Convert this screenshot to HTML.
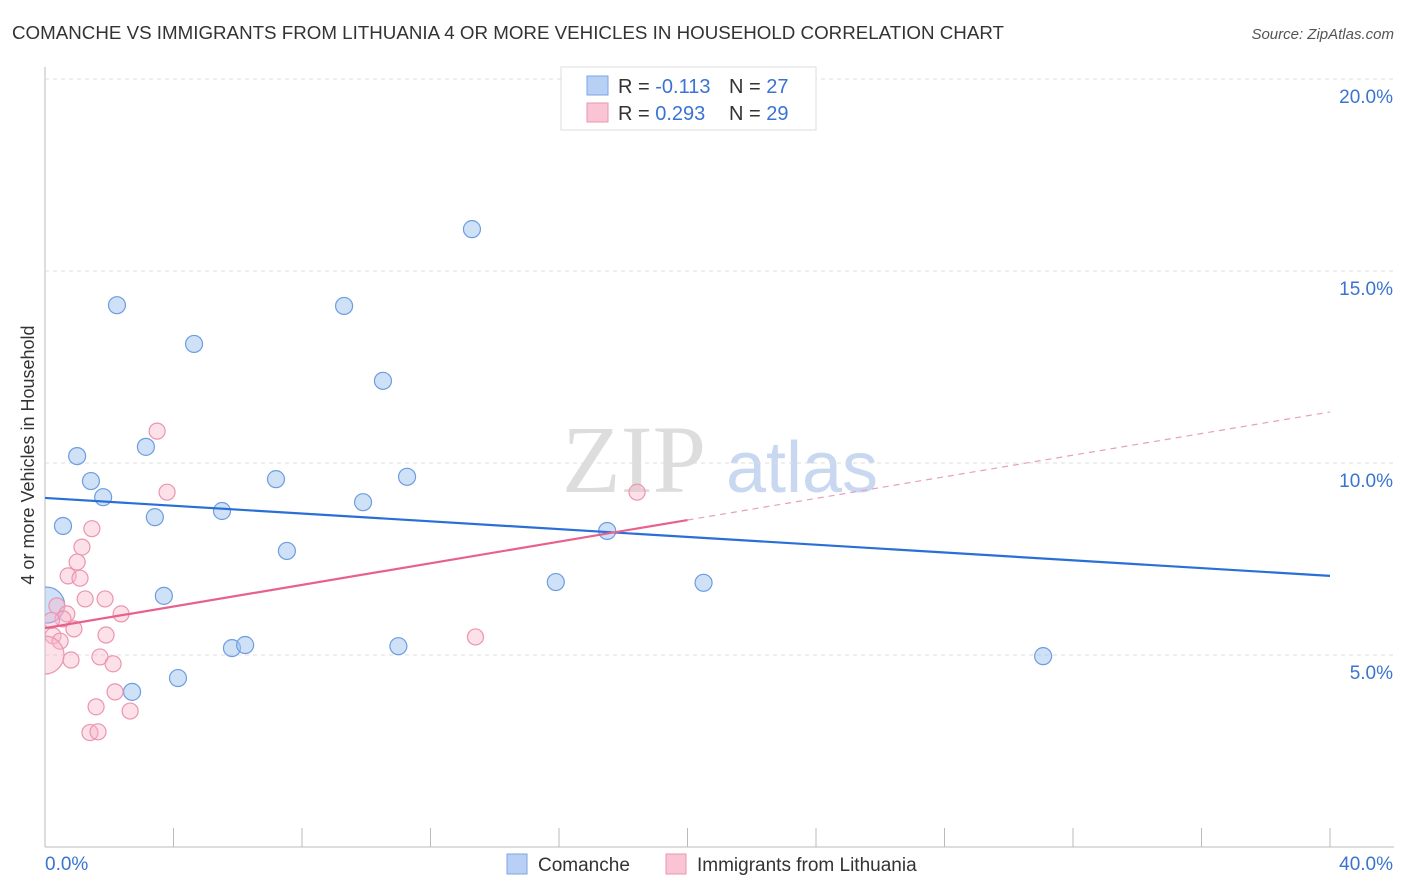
<!DOCTYPE html>
<html><head><meta charset="utf-8"><style>
body{margin:0;background:#fff;font-family:"Liberation Sans",sans-serif;}
svg{display:block}
</style></head><body>
<svg id="chart" width="1406" height="892" xmlns="http://www.w3.org/2000/svg">
<defs><clipPath id="plotclip"><rect x="45" y="60" width="1360" height="787"/></clipPath></defs>
<text x="12" y="39" font-size="18" fill="#333" textLength="992" lengthAdjust="spacingAndGlyphs">COMANCHE VS IMMIGRANTS FROM LITHUANIA 4 OR MORE VEHICLES IN HOUSEHOLD CORRELATION CHART</text>
<text x="1394" y="39" font-size="15" fill="#555" font-style="italic" text-anchor="end">Source: ZipAtlas.com</text>
<text x="634" y="492" font-size="96" fill="#ddd" font-family="Liberation Serif,serif" text-anchor="middle">ZIP</text>
<text x="802" y="492" font-size="72" fill="#c8d8f0" text-anchor="middle">atlas</text>
<text transform="translate(34,455) rotate(-90)" font-size="18" fill="#333" text-anchor="middle">4 or more Vehicles in Household</text>
<g id="grid"></g><g id="marks" clip-path="url(#plotclip)"></g>
<g>
<rect x="561" y="67" width="255" height="63" fill="#fff" stroke="#ddd"/>
<rect x="587" y="76" width="21" height="19" fill="#b8d0f4" stroke="#7aa6e6"/>
<rect x="587" y="103" width="21" height="19" fill="#f9c4d4" stroke="#eb94b2"/>
<text x="618" y="93" font-size="20" fill="#333">R = <tspan fill="#3a74d0">-0.113</tspan></text>
<text x="729" y="93" font-size="20" fill="#333">N = <tspan fill="#3a74d0">27</tspan></text>
<text x="618" y="120" font-size="20" fill="#333">R = <tspan fill="#3a74d0">0.293</tspan></text>
<text x="729" y="120" font-size="20" fill="#333">N = <tspan fill="#3a74d0">29</tspan></text>
</g>
<g>
<rect x="507" y="854" width="20" height="20" fill="#b8d0f4" stroke="#7aa6e6"/>
<text x="538" y="871" font-size="19" fill="#333">Comanche</text>
<rect x="666" y="854" width="20" height="20" fill="#f9c4d4" stroke="#eb94b2"/>
<text x="697" y="871" font-size="19" fill="#333">Immigrants from Lithuania</text>
</g>
</svg>
<script>
const yTicks=[5,10,15,20];
const xTickLabels=["0.0%","40.0%"];
const blueX=[2.24,4.64,9.31,13.29,10.52,3.14,1.0,1.43,1.81,3.42,0.56,5.51,7.19,11.27,9.9,7.53,17.5,15.9,20.5,3.7,5.82,6.23,11.0,4.14,2.71,31.07,0.05];
const blueY=[14.11,13.1,14.09,16.09,12.14,10.42,10.18,9.53,9.11,8.59,8.36,8.75,9.58,9.64,8.98,7.71,8.23,6.9,6.88,6.54,5.18,5.26,5.23,4.4,4.04,4.97,6.3];
const pinkX=[1.46,1.15,1.0,0.72,1.09,1.25,1.87,2.37,0.37,0.68,0.56,0.90,0.25,0.47,1.9,1.71,2.12,0.81,2.18,1.59,2.65,1.40,1.65,3.49,3.8,18.43,13.4,0.0,0.2];
const pinkY=[8.29,7.81,7.42,7.06,7.0,6.46,6.46,6.07,6.28,6.07,5.94,5.68,5.5,5.36,5.52,4.95,4.77,4.87,4.04,3.65,3.54,2.98,3.0,10.83,9.24,9.24,5.47,5.0,5.9];
const blueLine=[9.09,7.06];
const pinkLine=[5.70,11.33];
const NS="http://www.w3.org/2000/svg";
const sx=v=>45+v/40*1285, sy=v=>847-v*38.4;
const grid=document.getElementById('grid'),marks=document.getElementById('marks');
function mk(tag,attrs,parent){const e=document.createElementNS(NS,tag);for(const k in attrs)e.setAttribute(k,attrs[k]);parent.appendChild(e);return e;}
let ax=mk('line',{x1:45,y1:67,x2:45,y2:847,stroke:'#bbb'},grid);


let bx=mk('line',{x1:45,y1:847,x2:1394,y2:847,stroke:'#bbb'},grid);


yTicks.forEach(t=>{
 let l=mk('line',{x1:45,y1:sy(t),x2:1394,y2:sy(t),stroke:'#ddd','stroke-dasharray':'4,4'},grid);
 
 
 let tx=mk('text',{x:1393,y:sy(t)+24,'font-size':19,fill:'#3a74d0','text-anchor':'end'},grid);tx.textContent=t.toFixed(1)+'%';
 
 
});
for(let i=0;i<=10;i++){let l=mk('line',{x1:sx(i*4),y1:828,x2:sx(i*4),y2:847,stroke:'#bbb'},grid);
 
 }
let t0=mk('text',{x:45,y:870,'font-size':19,fill:'#3a74d0'},grid);t0.textContent=xTickLabels[0];


let t1=mk('text',{x:1393,y:870,'font-size':19,fill:'#3a74d0','text-anchor':'end'},grid);t1.textContent=xTickLabels[1];


blueX.forEach((x,i)=>{let c=mk('circle',{cx:sx(x),cy:sy(blueY[i]),r:i==26?18:8.5,fill:'rgba(160,195,240,0.5)',stroke:'#6d9de0','stroke-width':1.2},marks);
 
 });
pinkX.forEach((x,i)=>{let c=mk('circle',{cx:sx(x),cy:sy(pinkY[i]),r:i==27?19:8,fill:'rgba(248,180,200,0.4)',stroke:'#eb94b2','stroke-width':1.2},marks);
 
 });
let bl=mk('line',{x1:sx(0),y1:sy(blueLine[0]),x2:sx(40),y2:sy(blueLine[1]),stroke:'#2a6fd6','stroke-width':2.2},marks);


const pm=pinkLine[0]+(pinkLine[1]-pinkLine[0])*0.5;
let pl=mk('line',{x1:sx(0),y1:sy(pinkLine[0]),x2:sx(20),y2:sy(pm),stroke:'#e8608e','stroke-width':2.2},marks);


let pd=mk('line',{x1:sx(20),y1:sy(pm),x2:sx(40),y2:sy(pinkLine[1]),stroke:'#e8a0b8','stroke-width':1.2,'stroke-dasharray':'6,5'},marks);


</script>
</body></html>
